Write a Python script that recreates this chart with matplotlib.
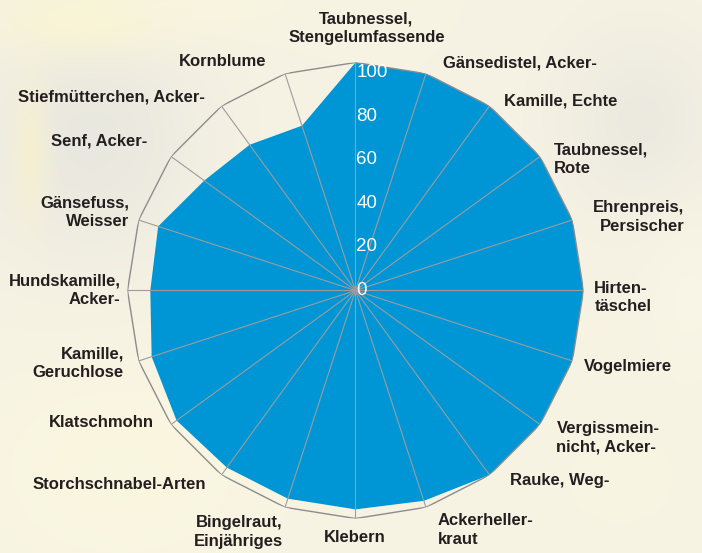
import numpy as np
import matplotlib.pyplot as plt

# data
categories = ['Taubnessel,\nStengelumfassende', 'Gänsedistel, Acker-', 'Kamille, Echte',
              'Taubnessel,\nRote', 'Ehrenpreis,\nPersischer', 'Hirten-\ntäschel', 'Vogelmiere',
              'Vergissmein-\nnicht, Acker-', 'Rauke, Weg-', 'Ackerheller-\nkraut', 'Klebern',
              'Bingelraut,\nEinjähriges', 'Storchschnabel-Arten', 'Klatschmohn',
              'Kamille,\nGeruchlose', 'Hundskamille,\nAcker-', 'Gänsefuss,\nWeisser',
              'Senf, Acker-', 'Stiefmütterchen, Acker-', 'Kornblume']
values = [100, 100, 100, 100, 100, 100, 100, 100, 100, 97,
          96, 96, 96, 97, 94, 90, 91, 82, 79, 76]
ticks = [0, 20, 40, 60, 80, 100]

# label nudges in pixels (dx, dy downwards) and alignment
nudges = [(11, -11), (10, 11), (1, 13), (-5, 16), (-1, 4), (-12, 7), (-10, -1),
          (-2, 0), (7, -13), (5, 1), (-1, -4), (5, 3), (-2, -9), (1, -15),
          (7, -5), (16, 0), (12, -1), (-5, -2), (-3, 9), (-12, 10)]
mal = {3: 'left', 4: 'right'}

plt.rcParams['font.family'] = ['Liberation Sans', 'DejaVu Sans']

fig = plt.figure(figsize=(7.02, 5.53), dpi=100)

# soft blurry background
H, W = 553, 702
yy, xx = np.mgrid[0:H, 0:W]
bg = np.ones((H, W, 3)) * np.array([246, 243, 228]) / 255


def blob(cx, cy, sx, sy, col, a):
    g = a * np.exp(-(((xx - cx) / sx) ** 2 + ((yy - cy) / sy) ** 2))
    for k in range(3):
        bg[:, :, k] = bg[:, :, k] * (1 - g) + col[k] / 255 * g


blob(90, 140, 110, 120, (230, 229, 222), 0.8)
blob(80, 20, 90, 35, (250, 245, 210), 0.9)
blob(30, 150, 18, 70, (248, 242, 205), 0.7)
blob(640, 120, 80, 90, (232, 230, 222), 0.7)
blob(690, 300, 40, 80, (250, 247, 232), 0.6)
blob(120, 470, 160, 120, (251, 247, 222), 0.8)
blob(620, 480, 120, 100, (249, 245, 224), 0.6)
blob(200, 0, 120, 40, (250, 246, 222), 0.6)
ax_bg = fig.add_axes([0, 0, 1, 1])
ax_bg.imshow(bg, aspect='auto', interpolation='bilinear')
ax_bg.axis('off')

ax = fig.add_axes([0.1816, 0.0624, 0.6496, 0.8246], projection='polar')
ax.set_theta_zero_location('N')
ax.set_theta_direction(-1)
ax.set_ylim(0, 100)
ax.set_facecolor('none')
ax.spines['polar'].set_visible(False)
ax.grid(False)
ax.set_xticks([])
ax.set_yticks([])

n = len(categories)
angles = np.arange(n) * 2 * np.pi / n
a_closed = np.append(angles, angles[0])
v_closed = np.append(values, values[0])

ax.fill(a_closed, v_closed, color='#0096d6', lw=0, zorder=2)
ax.plot(a_closed, [ticks[-1]] * (n + 1), color='#8c8c8c', lw=1, zorder=3)
for a in angles:
    ax.plot([a, a], [0, ticks[-1]], color='#9c9c9c', lw=0.8, zorder=3)

for t in ticks:
    ax.annotate(str(t), xy=(0, t * 0.955), xytext=(1, 0), textcoords='offset pixels',
                ha='left', va='center', color='white', fontsize=13.5, zorder=4,
                annotation_clip=False)

for i, (lab, a) in enumerate(zip(categories, angles)):
    s = np.sin(a)
    if s > 0.1:
        ha = 'left'
    elif s < -0.1:
        ha = 'right'
    else:
        ha = 'center'
    dx, dy = nudges[i]
    ax.annotate(lab, xy=(a, 110), xytext=(dx, -dy), textcoords='offset pixels',
                ha=ha, va='center', multialignment=mal.get(i, ha),
                fontsize=12, fontweight='bold', color='#231f20',
                linespacing=1.3, annotation_clip=False)

fig.savefig('out.png', dpi=100)
